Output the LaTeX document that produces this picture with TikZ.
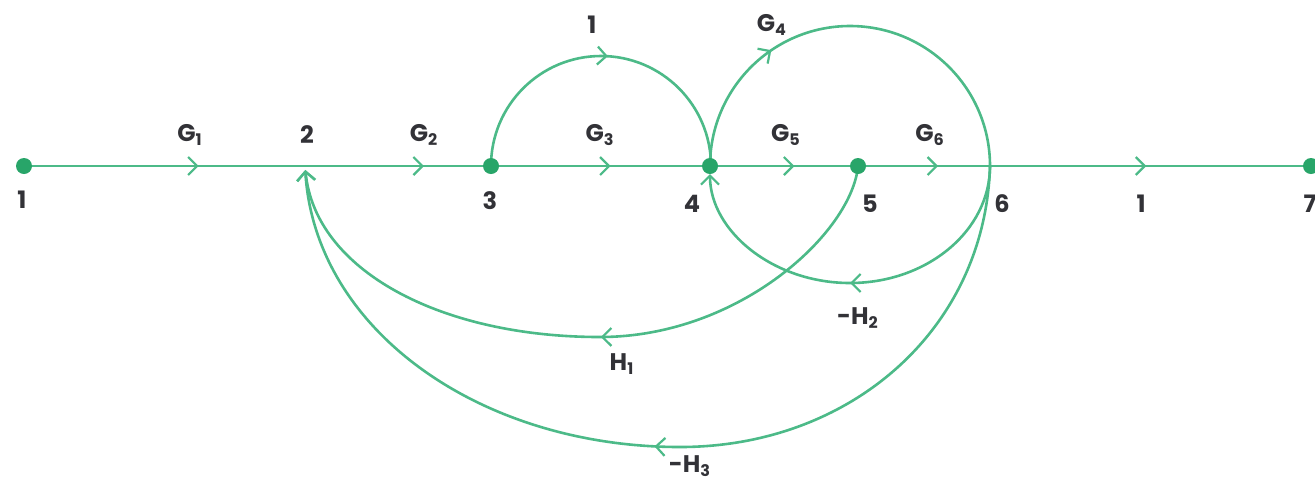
\documentclass[tikz,border=0pt]{standalone}
\usepackage{fontspec}
\setmainfont{Poppins}
\usetikzlibrary{decorations.markings,arrows.meta,backgrounds}
\definecolor{edgegreen}{RGB}{76,186,136}
\definecolor{dotgreen}{RGB}{40,165,105}
\definecolor{txt}{RGB}{50,50,55}
\begin{document}
\begin{tikzpicture}[x=0.5pt,y=-0.5pt,
  edge/.style={draw=edgegreen,line width=1.3pt},
  tipat/.style={postaction={decorate},decoration={markings,mark=at position #1 with {\arrow[edgegreen]{Straight Barb[length=4.5pt,width=9pt,line width=1.1pt]}}}},
  dot/.style={circle,fill=dotgreen,inner sep=0pt,minimum size=8pt},
  lbl/.style={text=txt,font=\bfseries\fontsize{12}{14}\selectfont,inner sep=0pt}]
\useasboundingbox (0,0) rectangle (1315,479);
% nodes
\node[dot] (n1) at (24,166) {};
\coordinate (n2) at (305,166);
\node[dot] (n3) at (491,166) {};
\node[dot] (n4) at (710,166) {};
\node[dot] (n5) at (858,166) {};
\coordinate (n6) at (990,166);
\node[dot] (n7) at (1311,166) {};
\coordinate (h1b) at (600,337);
\coordinate (h3b) at (680,447);
% connectors
\begin{scope}[on background layer]
\fill[white] (0,0) rectangle (1315,479);
\draw[edge,tipat=0.61] (n1) -- (n2);
\draw[edge,tipat=0.67] (n2) -- (n3);
\draw[edge,tipat=0.55] (n3) -- (n4);
\draw[edge,tipat=0.58] (n4) -- (n5);
\draw[edge,tipat=0.58] (n5) -- (n6);
\draw[edge,tipat=0.50] (n6) -- (n7);
\draw[edge,tipat=0.52] (n3.center) arc[start angle=180,end angle=360,radius=110];
\draw[edge,tipat=0.31] (n4.center) arc[start angle=180,end angle=360,radius=140];
\draw[edge,tipat=0.5,-{Straight Barb[length=4.5pt,width=9pt,line width=1.1pt]},shorten >=4pt] (n6) arc[start angle=0,end angle=180,x radius=140,y radius=117];
\draw[edge,tipat=0.47,-{Straight Barb[length=4.5pt,width=9pt,line width=1.1pt]},shorten >=2pt]
  (n5.center) .. controls (852,232) and (740,337) .. (h1b) .. controls (440,337) and (315,270) .. (n2);
\draw[edge,tipat=0.5,-{Straight Barb[length=4.5pt,width=9pt,line width=1.1pt]},shorten >=2pt]
  (n6) .. controls (985,330) and (850,447) .. (h3b) .. controls (480,447) and (315,330) .. (n2);
\end{scope}
% labels
\node[lbl] (lg1) at (190,135) {G\textsubscript{1}};
\node[lbl] (l2) at (307,135) {2};
\node[lbl] (lg2) at (424,135) {G\textsubscript{2}};
\node[lbl] (lg3) at (600,135) {G\textsubscript{3}};
\node[lbl] (lg5) at (786,135) {G\textsubscript{5}};
\node[lbl] (lg6) at (930,135) {G\textsubscript{6}};
\node[lbl] (lone) at (592,25) {1};
\node[lbl] (lg4) at (772,25) {G\textsubscript{4}};
\node[lbl] (l1) at (22,200) {1};
\node[lbl] (l3) at (490,201) {3};
\node[lbl] (l4) at (692,204) {4};
\node[lbl] (l5) at (870,204) {5};
\node[lbl] (l6) at (1002,204) {6};
\node[lbl] (lsix) at (1141,204) {1};
\node[lbl] (l7) at (1310,204) {7};
\node[lbl] (lh1) at (622,364) {H\textsubscript{1}};
\node[lbl] (lh2) at (858,318) {-H\textsubscript{2}};
\node[lbl] (lh3) at (690,466) {-H\textsubscript{3}};
\end{tikzpicture}
\end{document}
